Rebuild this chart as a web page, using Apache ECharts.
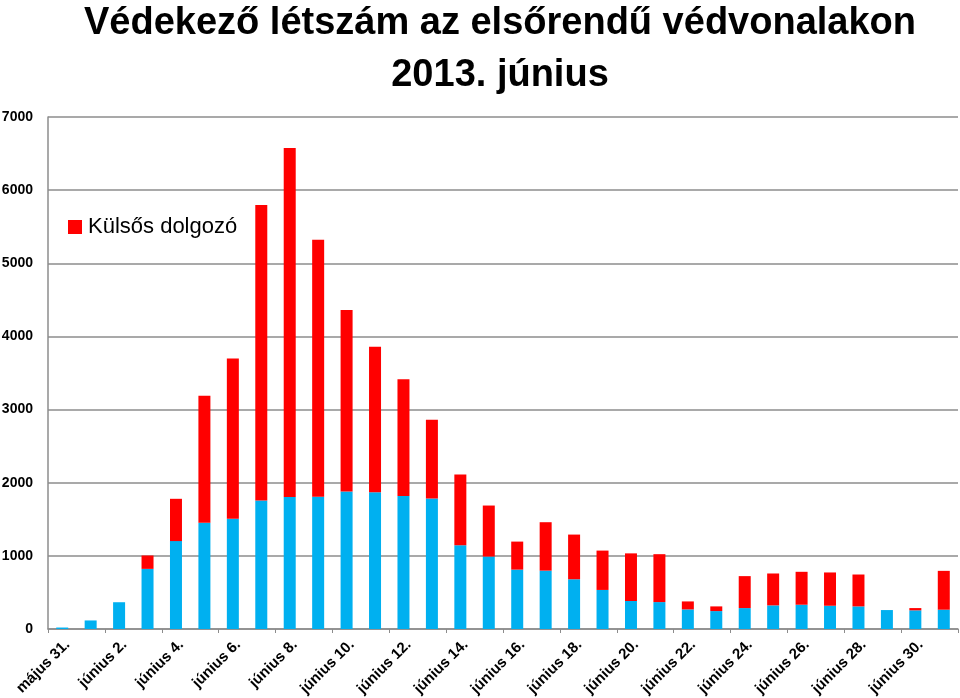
<!DOCTYPE html>
<html><head><meta charset="utf-8">
<script src="https://cdn.jsdelivr.net/npm/echarts@6/dist/echarts.min.js"></script>
<style>html,body{margin:0;padding:0;background:#fff}#c{width:960px;height:698px}</style>
</head><body><div id="c"></div>
<script>
const categories = ['május 31.','június 1.','június 2.','június 3.','június 4.','június 5.','június 6.','június 7.','június 8.','június 9.','június 10.','június 11.','június 12.','június 13.','június 14.','június 15.','június 16.','június 17.','június 18.','június 19.','június 20.','június 21.','június 22.','június 23.','június 24.','június 25.','június 26.','június 27.','június 28.','június 29.','június 30.','július 1.'];
const sajat = [20,117,366,822,1202,1451,1508,1757,1804,1808,1879,1870,1820,1783,1145,990,812,798,680,534,383,368,268,245,286,323,332,318,309,259,255,264];
const kulsos = [0,0,0,183,578,1738,2189,4039,4772,3514,2481,1989,1596,1077,967,698,383,662,611,538,651,655,109,64,437,436,450,455,436,0,31,531];
const yTicks = [0,1000,2000,3000,4000,5000,6000,7000];

const chart = echarts.init(document.getElementById('c'), null, {renderer:'canvas'});
chart.setOption({
  animation:false,
  title:{
    text:'Védekező létszám az elsőrendű védvonalakon\n2013. június',
    left:495, top:-7, textAlign:'center',
    textStyle:{fontFamily:'"Liberation Sans",Arial,sans-serif',fontWeight:'bold',fontSize:38,lineHeight:52,color:'#000'}
  },
  legend:{
    data:['Külsős dolgozó'], left:63, top:211, itemWidth:14, itemHeight:14, itemGap:6,
    icon:'rect',
    textStyle:{fontFamily:'"Liberation Sans",Arial,sans-serif',fontSize:22,color:'#000',padding:[0,0,0,1]}
  },
  grid:{left:48,right:2,top:117,bottom:69,outerBoundsMode:'none',containLabel:false},
  xAxis:{
    type:'category', data:categories,
    axisLine:{lineStyle:{color:'#8c8c8c',width:1.5}},
    axisTick:{show:true,interval:1,length:4,lineStyle:{color:'#8c8c8c'}},
    axisLabel:{interval:1,rotate:45,margin:8,verticalAlign:'top',color:'#000',fontWeight:'bold',fontSize:15,fontFamily:'"Liberation Sans",Arial,sans-serif'}
  },
  yAxis:{
    type:'value', min:yTicks[0], max:yTicks[yTicks.length-1], interval:1000,
    axisLine:{show:true,lineStyle:{color:'#8c8c8c',width:1.5}},
    axisTick:{show:false},
    splitLine:{lineStyle:{color:'#8c8c8c',width:1.5}},
    axisLabel:{color:'#000',fontSize:14,fontWeight:'bold',margin:15,fontFamily:'"Liberation Sans",Arial,sans-serif',formatter:function(v){return String(v);}}
  },
  series:[
    {name:'Saját dolgozó',type:'bar',stack:'a',data:sajat,barWidth:12,itemStyle:{color:'#00B0F0'}},
    {name:'Külsős dolgozó',type:'bar',stack:'a',data:kulsos,barWidth:12,itemStyle:{color:'#FF0000'}}
  ]
});
</script></body></html>
